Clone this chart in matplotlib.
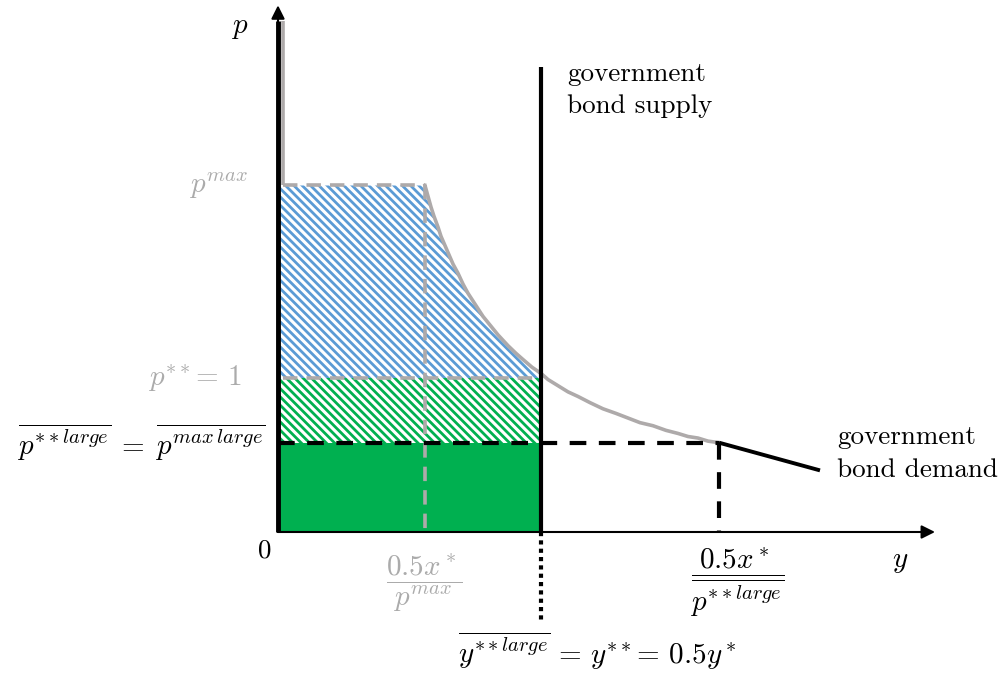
import matplotlib
matplotlib.use("Agg")
import matplotlib.pyplot as plt

plt.rcParams['mathtext.fontset'] = 'cm'
plt.rcParams['hatch.linewidth'] = 2.0

# price levels (p** = 1)
p_max = 2.25
p_star = 1.0
p_large = 0.58

# quantities on the y axis
y_pmax = 1.47      # 0.5x*/p^max
y_supply = 2.63    # y** = 0.5y*
y_plarge = 4.41    # 0.5x*/p**large

# gray demand curve
curve_y = [1.47, 1.50, 1.53, 1.56, 1.60, 1.63, 1.67, 1.71, 1.75, 1.80, 1.85,
           1.90, 1.95, 2.00, 2.05, 2.10, 2.20, 2.30, 2.38, 2.45, 2.54, 2.63,
           2.70, 2.80, 2.90, 3.00, 3.12, 3.25, 3.38, 3.50, 3.62, 3.75, 3.88,
           4.00, 4.10, 4.20, 4.30, 4.41]
curve_p = [2.25, 2.18, 2.11, 2.05, 1.98, 1.92, 1.86, 1.80, 1.74, 1.68, 1.61,
           1.55, 1.50, 1.45, 1.40, 1.36, 1.28, 1.21, 1.16, 1.12, 1.07, 1.03,
           0.99, 0.95, 0.91, 0.88, 0.84, 0.80, 0.77, 0.74, 0.71, 0.69, 0.66,
           0.64, 0.62, 0.61, 0.59, 0.58]

# vertical part of the gray curve near the p axis
gray_top = 3.32
gray_x = 0.05

# black demand segment after the kink
demand_y = [4.41, 5.42]
demand_p = [0.58, 0.40]

supply_top = 3.02
x_axis_end = 6.57
p_axis_end = 3.42

GRAY = '#AEAAAA'
GRAY_TXT = '#ABABAB'
GREEN = '#00B050'
BLUE = '#5B9BD5'

fig = plt.figure(figsize=(10.07, 6.73), dpi=100)
ax = fig.add_axes([0, 0, 1, 1])
ax.set_xlim(-2.78, 7.29)
ax.set_ylim(-0.9156, 3.4545)
ax.axis('off')

# filled areas
ax.fill_between([0, y_supply], 0, p_large, color=GREEN, lw=0)
ax.fill_between([0, y_supply], p_large, p_star, facecolor='white',
                edgecolor=GREEN, hatch='\\\\\\\\', lw=0)
n_sup = curve_y.index(y_supply) + 1
blue_x = [0] + curve_y[:n_sup] + [y_supply, 0]
blue_p = [p_max] + curve_p[:n_sup] + [p_star, p_star]
ax.fill(blue_x, blue_p, facecolor='white', edgecolor=BLUE, hatch='\\\\\\\\',
        lw=0)

# gray curve with its capped part
ax.plot([gray_x, gray_x], [gray_top, p_max], color=GRAY, lw=2.6,
        solid_capstyle='butt')
ax.plot(curve_y, curve_p, color=GRAY, lw=2.6)
ax.plot([gray_x, y_pmax], [p_max, p_max], color=GRAY, lw=2.6, dashes=(4, 2.5))
ax.plot([y_pmax, y_pmax], [p_max, 0], color=GRAY, lw=2.6, dashes=(4, 2.5))
ax.plot([gray_x, y_supply], [p_star, p_star], color=GRAY, lw=2.6,
        dashes=(4, 2.5))

# black lines
ax.plot([0, y_plarge], [p_large, p_large], color='black', lw=3, dashes=(4, 3))
ax.plot([y_plarge, y_plarge], [p_large, 0], color='black', lw=3, dashes=(4, 3))
ax.plot(demand_y, demand_p, color='black', lw=2.8, solid_capstyle='butt')
ax.plot([y_supply, y_supply], [0, supply_top], color='black', lw=3,
        solid_capstyle='butt')
ax.plot([y_supply, y_supply], [0, -0.58], color='black', lw=3, dashes=(1, 1))

# axes with arrows
ax.annotate('', xy=(x_axis_end, 0), xytext=(0, 0),
            arrowprops=dict(arrowstyle='-|>', lw=1.5, color='black',
                            mutation_scale=20, shrinkA=0, shrinkB=0))
ax.annotate('', xy=(0, p_axis_end), xytext=(0, 0),
            arrowprops=dict(arrowstyle='-|>', lw=1.5, color='black',
                            mutation_scale=20, shrinkA=0, shrinkB=0))
ax.plot([0, 0], [0, gray_top], color='black', lw=3.5, solid_capstyle='butt')

# labels
fs = 19.5
mfs = 21
ax.text(-0.38, 3.28, r'$p$', fontsize=mfs, ha='center', va='center')
ax.text(6.22, -0.19, r'$y$', fontsize=mfs, ha='center', va='center')
ax.text(-0.13, -0.12, '0', fontsize=fs, family='cmr10', ha='center',
        va='center')
ax.text(-0.30, 2.25, r'$p^{max}$', fontsize=mfs, color=GRAY_TXT, ha='right',
        va='center')
ax.text(-0.36, 1.0, r'$p^{**}\!=\,1$', fontsize=mfs, color=GRAY_TXT,
        ha='right', va='center')
ax.text(-0.13, 0.58,
        r'$\overline{p^{**large}}\;=\;\overline{p^{max\,large}}$',
        fontsize=mfs, ha='right', va='center')
ax.text(1.46, -0.33, r'$\dfrac{0.5x^*}{p^{max}}$', fontsize=mfs,
        color=GRAY_TXT, ha='center', va='center')
ax.text(4.59, -0.325, r'$\dfrac{0.5x^*}{\overline{p^{**large}}}$',
        fontsize=mfs, ha='center', va='center')
ax.text(3.19, -0.77, r'$\overline{y^{**large}}\,=\,y^{**}\!=\,0.5y^*$',
        fontsize=mfs, ha='center', va='center')
ax.text(2.89, 3.05, 'government\nbond supply', fontsize=fs, family='cmr10',
        ha='left', va='top', linespacing=1.45)
ax.text(5.59, 0.69, 'government\nbond demand', fontsize=fs, family='cmr10',
        ha='left', va='top', linespacing=1.45)

fig.savefig('out.png', dpi=100)
